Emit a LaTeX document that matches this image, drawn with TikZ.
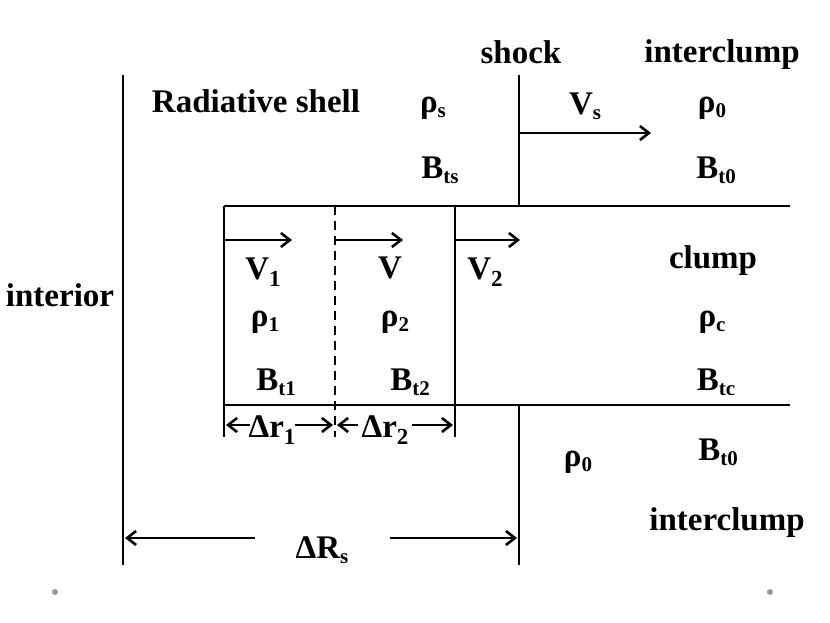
\documentclass[tikz,border=0pt]{standalone}
\usepackage{fontspec}
\setmainfont{Liberation Serif}
\usetikzlibrary{arrows.meta}
\newcommand\sbs[1]{\raisebox{-0.35ex}{\fontsize{21}{21}\selectfont #1}}
\newcommand\sbl[1]{\raisebox{-0.5ex}{\fontsize{23}{23}\selectfont #1}}
\tikzset{
  ln/.style={line width=2.8pt},
  arr/.style={line width=2.6pt,-{Straight Barb[length=9pt,width=14pt,line width=2.6pt]}},
  lbl/.style={font=\bfseries\fontsize{33}{38}\selectfont, inner sep=0pt, anchor=center},
  dot/.style={fill=gray!80, draw=none, circle, minimum size=6pt, inner sep=0pt}
}
\begin{document}
\begin{tikzpicture}[x=1pt,y=-1pt]
\useasboundingbox (0,0) rectangle (830,623);
% named coordinates
\coordinate (Ltop) at (123,75);  \coordinate (Lbot) at (123,565);
\coordinate (Stop) at (519,75);  \coordinate (Smid1) at (519,206);
\coordinate (Smid2) at (519,405); \coordinate (Sbot) at (519,565);
\coordinate (Ha) at (224,206); \coordinate (Hb) at (790,206);
\coordinate (Hc) at (224,405); \coordinate (Hd) at (790,405);
\coordinate (B1t) at (224,206); \coordinate (B1b) at (224,437);
\coordinate (D1t) at (335,206); \coordinate (D1b) at (335,437);
\coordinate (R1t) at (455,206); \coordinate (R1b) at (455,437);
% lines
\draw[ln] (Ltop) -- (Lbot);
\draw[ln] (Stop) -- (Smid1);
\draw[ln] (Smid2) -- (Sbot);
\draw[ln] (Ha) -- (Hb);
\draw[ln] (Hc) -- (Hd);
\draw[ln] (B1t) -- (B1b);
\draw[ln,dash pattern=on 9pt off 6pt] (D1t) -- (D1b);
\draw[ln] (R1t) -- (R1b);
% velocity arrows
\coordinate (a1) at (224,240); \coordinate (a1e) at (292,240);
\coordinate (a2) at (335,240); \coordinate (a2e) at (403,240);
\coordinate (a3) at (455,240); \coordinate (a3e) at (520,240);
\coordinate (vs) at (519,133); \coordinate (vse) at (651,133);
\draw[arr] (a1) -- (a1e);
\draw[arr] (a2) -- (a2e);
\draw[arr] (a3) -- (a3e);
\draw[arr] (vs) -- (vse);
% labels
\node[lbl] (shock) at (521,52) {shock};
\node[lbl] (ic1) at (722,55) {interclump};
\node[lbl] (rad) at (256,101) {Radiative shell};
\node[lbl] (rhos) at (433,108) {ρ\sbs{s}};
\node[lbl] (Bts) at (440,170) {B\sbs{ts}};
\node[lbl] (Vs) at (585,106) {V\sbs{s}};
\node[lbl] (rho0a) at (712,108) {ρ\sbs{0}};
\node[lbl] (Bt0a) at (716,170) {B\sbs{t0}};
\node[lbl] (V1) at (263,272) {V\sbl{1}};
\node[lbl] (V) at (390,268) {V};
\node[lbl] (V2) at (485,272) {V\sbl{2}};
\node[lbl] (clump) at (713,261) {clump};
\node[lbl] (rhoc) at (712,322) {ρ\sbs{c}};
\node[lbl] (Btc) at (716,382) {B\sbs{tc}};
\node[lbl] (rho1) at (265,322) {ρ\sbs{1}};
\node[lbl] (rho2) at (395,322) {ρ\sbs{2}};
\node[lbl] (Bt1) at (276,382) {B\sbs{t1}};
\node[lbl] (Bt2) at (410,382) {B\sbs{t2}};
\node[lbl] (interior) at (60,295) {interior};
\node[lbl] (rho0b) at (578,462) {ρ\sbs{0}};
\node[lbl] (Bt0b) at (718,452) {B\sbs{t0}};
\node[lbl] (ic2) at (727,523) {interclump};
\node[lbl] (dr1) at (272,430) {Δr\sbl{1}};
\node[lbl] (dr2) at (385,430) {Δr\sbl{2}};
\node[lbl] (dRs) at (322,550) {ΔR\sbs{s}};
% dimension arrows
\coordinate (d1l) at (226,425); \coordinate (d1r) at (333,425);
\coordinate (d2l) at (337,425); \coordinate (d2r) at (453,425);
\coordinate (Rl) at (125,538); \coordinate (Rr) at (517,538);
\draw[arr] (250,425) -- (d1l);
\draw[arr] (295,425) -- (d1r);
\draw[arr] (358,425) -- (d2l);
\draw[arr] (412,425) -- (d2r);
\draw[arr] (255,538) -- (Rl);
\draw[arr] (390,538) -- (Rr);
% dots
\node[dot] (dotl) at (55,592) {};
\node[dot] (dotr) at (770,592) {};
\end{tikzpicture}
\end{document}
